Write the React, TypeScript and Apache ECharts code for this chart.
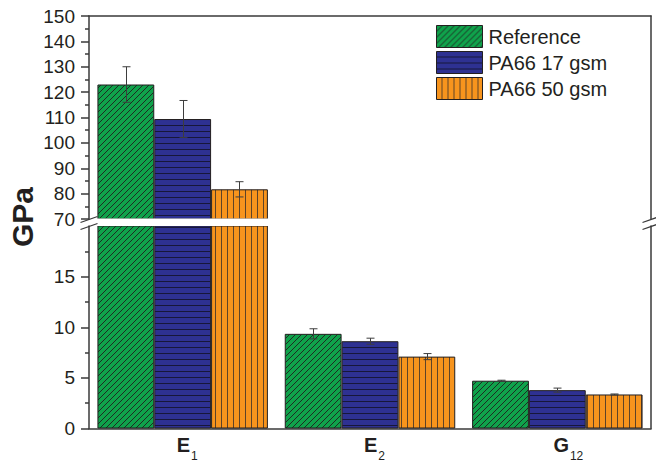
import React, { useEffect, useRef } from 'react';
import * as echarts from 'echarts';

// ---------- data ----------
const categories = ['E1', 'E2', 'G12'];
const seriesNames = ['Reference', 'PA66 17 gsm', 'PA66 50 gsm'];
const referenceValues = [123.0, 9.35, 4.72];
const referenceErrors = [7.0, 0.5, 0.05];
const pa17Values = [109.4, 8.62, 3.79];
const pa17Errors = [7.3, 0.3, 0.2];
const pa50Values = [81.7, 7.1, 3.36];
const pa50Errors = [3.0, 0.3, 0.05];
const upperRange = [70, 150];
const lowerRange = [0, 20];
const lowerTickValues = [0, 5, 10, 15];

// ---------- layout / style ----------
const FONT = 'Liberation Sans, Arial, Helvetica, sans-serif';
const INK = '#231f20';
const AXIS = '#3a3a3a';
const LEFT = 89;
const RIGHT = 651;
const UP_TOP = 16;
const UP_BOTTOM = 219;
const LOW_TOP = 226;
const LOW_BOTTOM = 428.5;
const CAT_GAP = 0.09;

function makePattern(kind: string, bg: string, line: string) {
  const s = 6;
  const c = document.createElement('canvas');
  c.width = s;
  c.height = s;
  const ctx = c.getContext('2d')!;
  ctx.fillStyle = bg;
  ctx.fillRect(0, 0, s, s);
  ctx.strokeStyle = line;
  ctx.fillStyle = line;
  ctx.lineWidth = 1;
  if (kind === 'diag') {
    ctx.beginPath();
    ctx.moveTo(0, s);
    ctx.lineTo(s, 0);
    ctx.moveTo(-1, 1);
    ctx.lineTo(1, -1);
    ctx.moveTo(s - 1, s + 1);
    ctx.lineTo(s + 1, s - 1);
    ctx.stroke();
  } else if (kind === 'horiz') {
    ctx.fillRect(0, s - 1, s, 1);
  } else {
    ctx.fillRect(s - 1, 0, 1, s);
  }
  return { image: c, repeat: 'repeat' };
}

export default function App() {
  const ref = useRef<HTMLDivElement>(null);

  useEffect(() => {
    if (!ref.current) return;
    const chart = echarts.init(ref.current, null, { renderer: 'svg' });

    const fills = [
      makePattern('diag', '#0fa24b', '#1e2b22'),
      makePattern('horiz', '#2e3192', '#17173a'),
      makePattern('vert', '#f7941d', '#5e4328'),
    ];
    const values = [referenceValues, pa17Values, pa50Values];
    const errors = [referenceErrors, pa17Errors, pa50Errors];

    const inRange = (v: number, r: number[]) => v >= r[0] && v <= r[1];

    const bars: any[] = [];
    const errs: any[] = [];
    [0, 1].forEach((g) => {
      const range = g === 0 ? upperRange : lowerRange;
      seriesNames.forEach((name, si) => {
        bars.push({
          type: 'bar',
          name,
          xAxisIndex: g,
          yAxisIndex: g * 2,
          data: values[si].map((v) => (g === 0 ? (v > range[0] ? v : '-') : v)),
          barCategoryGap: CAT_GAP * 100 + '%',
          barGap: '0%',
          clip: true,
          itemStyle: { color: fills[si], borderColor: INK, borderWidth: 1 },
          emphasis: { disabled: true },
          z: 2,
        });
        const data = values[si]
          .map((v, i) => [i, v - errors[si][i], v + errors[si][i], v])
          .filter((d) => inRange(d[3], range));
        errs.push({
          type: 'custom',
          name: 'err-' + g + '-' + si,
          xAxisIndex: g,
          yAxisIndex: g * 2,
          data,
          z: 5,
          renderItem: (params: any, api: any) => {
            const idx = api.value(0);
            const lo = api.coord([idx, api.value(1)]);
            const hi = api.coord([idx, api.value(2)]);
            const band = api.size([1, 0])[0];
            const bw = (band * (1 - CAT_GAP)) / 3;
            const x = Math.round(lo[0] + (si - 1) * bw) + 0.5;
            const cap = 4;
            const st = { stroke: '#3d3d3d', lineWidth: 1 };
            return {
              type: 'group',
              children: [
                { type: 'line', shape: { x1: x, y1: hi[1], x2: x, y2: lo[1] }, style: st },
                { type: 'line', shape: { x1: x - cap, y1: hi[1], x2: x + cap, y2: hi[1] }, style: st },
                { type: 'line', shape: { x1: x - cap, y1: lo[1], x2: x + cap, y2: lo[1] }, style: st },
              ],
            };
          },
        });
      });
    });

    const axisLine = { show: true, lineStyle: { color: AXIS, width: 1.5 } };
    const tickStyle = { color: AXIS, width: 1.5 };
    const labelStyle = { color: INK, fontSize: 19, fontFamily: FONT, margin: 14 };

    const slash = (x: number, y: number) => ({
      type: 'line',
      z: 100,
      shape: { x1: x - 8.5, y1: y + 3, x2: x + 8.5, y2: y - 3 },
      style: { stroke: AXIS, lineWidth: 1.3 },
    });

    const option: any = {
      animation: false,
      grid: [
        { left: LEFT, right: 656 - RIGHT, top: UP_TOP, height: UP_BOTTOM - UP_TOP },
        { left: LEFT, right: 656 - RIGHT, top: LOW_TOP, height: LOW_BOTTOM - LOW_TOP },
      ],
      xAxis: [
        {
          type: 'category',
          gridIndex: 0,
          data: categories,
          position: 'top',
          axisLine: { ...axisLine, onZero: false },
          axisTick: { show: false },
          axisLabel: { show: false },
        },
        {
          type: 'category',
          gridIndex: 1,
          data: categories,
          position: 'bottom',
          axisLine: { ...axisLine, onZero: false },
          axisTick: { show: false },
          axisLabel: {
            margin: 6,
            interval: 0,
            color: INK,
            formatter: (v: string) => {
              const m = v.match(/^([A-Z])(\d+)$/);
              if (!m) return v;
              return `{${m[2].length > 1 ? 'b2' : 'b1'}|${m[1]}}{s|${m[2]}}`;
            },
            rich: {
              b1: { fontSize: 20, fontWeight: 'bold', fontFamily: FONT, color: INK, lineHeight: 20, verticalAlign: 'top', padding: [0, 0, 0, 9] },
              b2: { fontSize: 20, fontWeight: 'bold', fontFamily: FONT, color: INK, lineHeight: 20, verticalAlign: 'top', padding: [0, 0, 0, 22] },
              s: { fontSize: 12, fontFamily: FONT, color: INK, lineHeight: 12, verticalAlign: 'top', padding: [15, 0, 0, 1] },
            },
          },
        },
      ],
      yAxis: [
        {
          type: 'value',
          gridIndex: 0,
          min: upperRange[0],
          max: upperRange[1],
          interval: 10,
          axisLine,
          axisTick: { show: true, length: 8, lineStyle: tickStyle },
          minorTick: { show: true, splitNumber: 2, length: 4, lineStyle: tickStyle },
          axisLabel: labelStyle,
          splitLine: { show: false },
        },
        {
          type: 'value',
          gridIndex: 0,
          position: 'right',
          min: upperRange[0],
          max: upperRange[1],
          axisLine,
          axisTick: { show: false },
          axisLabel: { show: false },
          splitLine: { show: false },
        },
        {
          type: 'value',
          gridIndex: 1,
          min: lowerRange[0],
          max: lowerRange[1],
          interval: 5,
          axisLine,
          axisTick: { show: true, length: 8, lineStyle: tickStyle, customValues: lowerTickValues },
          minorTick: { show: true, splitNumber: 2, length: 4, lineStyle: tickStyle },
          axisLabel: { ...labelStyle, customValues: lowerTickValues },
          splitLine: { show: false },
        },
        {
          type: 'value',
          gridIndex: 1,
          position: 'right',
          min: lowerRange[0],
          max: lowerRange[1],
          axisLine,
          axisTick: { show: false },
          axisLabel: { show: false },
          splitLine: { show: false },
        },
      ],
      legend: {
        data: seriesNames,
        orient: 'vertical',
        left: 436,
        top: 25,
        padding: 0,
        itemWidth: 46,
        itemHeight: 22,
        itemGap: 3,
        icon: 'rect',
        selectedMode: false,
        textStyle: { color: INK, fontSize: 20, fontFamily: FONT, padding: [0, 0, 0, 1] },
        itemStyle: { borderColor: INK, borderWidth: 1 },
      },
      graphic: [
        {
          type: 'rect',
          z: 90,
          shape: { x: LEFT + 1.5, y: UP_BOTTOM - 0.5, width: RIGHT - LEFT - 3, height: LOW_TOP - UP_BOTTOM + 0.5 },
          style: { fill: '#ffffff' },
        },
        slash(LEFT, UP_BOTTOM + 0.5),
        slash(LEFT, LOW_TOP + 0.5),
        slash(RIGHT, UP_BOTTOM + 0.5),
        slash(RIGHT, LOW_TOP + 0.5),
        {
          type: 'text',
          x: 22,
          y: 217,
          rotation: Math.PI / 2,
          style: {
            text: 'GPa',
            font: `bold 30px ${FONT}`,
            fill: INK,
            align: 'center',
            verticalAlign: 'middle',
          },
        },
      ],
      series: [...bars, ...errs],
    };

    chart.setOption(option);
    return () => chart.dispose();
  }, []);

  return (
    <div
      ref={ref}
      style={{ position: 'fixed', left: 0, top: 0, width: 656, height: 462, background: '#fff' }}
    />
  );
}
